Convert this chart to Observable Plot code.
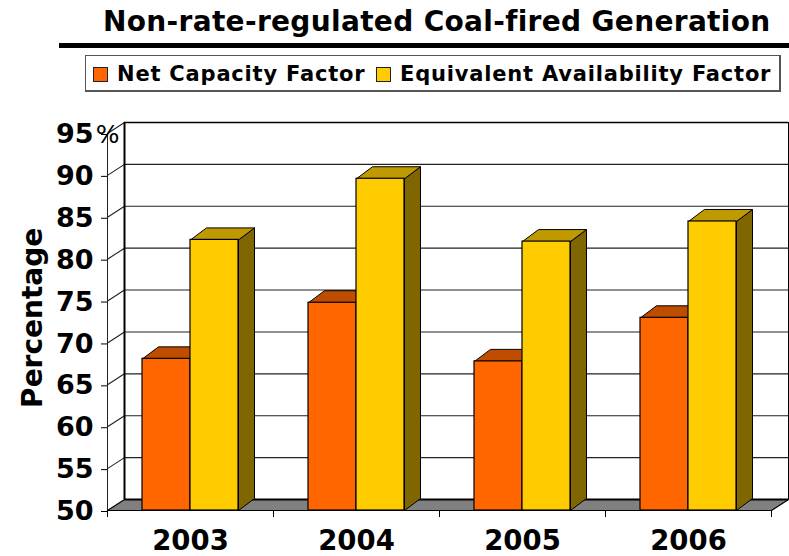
<!DOCTYPE html>
<html><head><meta charset="utf-8">
<script src="https://cdn.jsdelivr.net/npm/d3@7"></script>
<script src="https://cdn.jsdelivr.net/npm/@observablehq/plot@0.6"></script>
<style>
html,body{margin:0;padding:0;background:#fff;width:789px;height:556px;overflow:hidden}
body{font-family:"DejaVu Sans",sans-serif;color:#000}
#head{position:relative;height:100px;width:789px}
#title{position:absolute;left:103px;top:4px;font-weight:bold;font-size:28px;line-height:36px;white-space:nowrap;letter-spacing:.33px}
#rule{position:absolute;left:59px;right:0;top:43px;height:5px;background:#000}
#legend{position:absolute;left:85px;top:55px;width:693px;height:34px;border:1px solid #555;border-right-width:2px;border-bottom-width:2px;background:#fff}
.sw{position:absolute;top:11px;width:13px;height:13px;border:1px solid #222}
.lb{position:absolute;top:3px;font-weight:bold;font-size:21px;line-height:30px;white-space:nowrap;letter-spacing:.8px}
svg{display:block;overflow:visible}
</style></head><body>
<div id="head"><div id="title"></div><div id="rule"></div><div id="legend"></div></div>
<div id="chart"></div>
<script>
const title = "Non-rate-regulated Coal-fired Generation";
const years = ["2003","2004","2005","2006"];
const netCapacity = [68.1,74.8,67.8,73.0];
const equivAvail = [82.3,89.6,82.1,84.5];
const seriesNames = ["Net Capacity Factor","Equivalent Availability Factor"];
const yTicks = [50,55,60,65,70,75,80,85,90,95];
const orange = "#ff6600", orangeTop = "#bf4d00";
const yellow = "#ffcc00", yellowTop = "#bf9900", yellowSide = "#806600";
const font = "'DejaVu Sans', sans-serif";

document.getElementById("title").textContent = title;
const lg = document.getElementById("legend");
[[7,orange,31,seriesNames[0]],[290,yellow,314,seriesNames[1]]].forEach(([sx,c,tx,t])=>{
  const s=document.createElement("div");s.className="sw";s.style.left=sx+"px";s.style.background=c;lg.append(s);
  const l=document.createElement("div");l.className="lb";l.style.left=tx+"px";l.textContent=t;lg.append(l);
});

const dx = 17/166, dy = 11/8.38;          // oblique depth of the walls, in scale units
const bx = 16/166, by = 12/8.38;          // oblique depth of the bars
const barW = 48/166, barOff = 35/166;
const poly = (id,pts)=>[...pts,pts[0]].map(([x,y])=>({id,x,y}));
const top4 = (id,a,b,v)=>poly(id,[[a,v],[a+bx,v+by],[b+bx,v+by],[b,v]]);
const side = (id,b,v)=>poly(id,[[b,50],[b+bx,50+by],[b+bx,v+by],[b,v]]);

const oTops=[],oFront=[],yTops=[],ySides=[],yFront=[];
years.forEach((yr,i)=>{
  const a=i+barOff,m=a+barW,b=m+barW;
  oTops.push(...top4("ot"+i,a,m,netCapacity[i]));
  oFront.push({x1:a,x2:m,y1:50,y2:netCapacity[i]});
  yTops.push(...top4("yt"+i,m,b,equivAvail[i]));
  ySides.push(...side("ys"+i,b,equivAvail[i]));
  yFront.push({x1:m,x2:b,y1:50,y2:equivAvail[i]});
});
const grid = yTicks.flatMap(v=>[{v,x:0,y:v},{v,x:dx,y:v+dy},{v,x:4+dx,y:v+dy}]);
const floor = poly("floor",[[0,50],[dx,50+dy],[4+dx,50+dy],[4,50]]);

const plot = Plot.plot({
  width:789,height:456,
  marginLeft:107,marginRight:18,marginTop:33,marginBottom:46,
  style:{background:"transparent",overflow:"visible",fontFamily:font},
  x:{domain:[0,4],range:[107,771]},
  y:{domain:[50,95],range:[410,33]},
  marks:[
    Plot.line(grid.filter(d=>d.v>50),{x:"x",y:"y",z:"v",stroke:"#222",strokeWidth:1.1}),
    Plot.line(floor,{x:"x",y:"y",z:"id",fill:"#808080",stroke:"#000",strokeWidth:1.2}),
    Plot.ruleX([dx],{y1:50+dy,y2:95+dy,stroke:"#000",strokeWidth:2}),
    Plot.ruleX([4+dx],{y1:50+dy,y2:95+dy,stroke:"#000",strokeWidth:1}),
    Plot.ruleY([95+dy],{x1:dx,x2:4+dx,stroke:"#000",strokeWidth:1.5}),
    Plot.ruleY([50+dy],{x1:dx,x2:4+dx,stroke:"#000",strokeWidth:2}),
    Plot.ruleX([0],{y1:50,y2:95,stroke:"#222",strokeWidth:1}),
    Plot.line(oTops,{x:"x",y:"y",z:"id",fill:orangeTop,stroke:"#000",strokeWidth:1}),
    Plot.rect(oFront,{x1:"x1",x2:"x2",y1:"y1",y2:"y2",fill:orange,stroke:"#000",strokeWidth:1.2}),
    Plot.line(ySides,{x:"x",y:"y",z:"id",fill:yellowSide,stroke:"#000",strokeWidth:1}),
    Plot.line(yTops,{x:"x",y:"y",z:"id",fill:yellowTop,stroke:"#000",strokeWidth:1}),
    Plot.rect(yFront,{x1:"x1",x2:"x2",y1:"y1",y2:"y2",fill:yellow,stroke:"#000",strokeWidth:1.2}),
    Plot.ruleY([50],{x1:0,x2:4,stroke:"#000",strokeWidth:1.2}),
    Plot.axisY(yTicks,{anchor:"left",tickSize:6,tickPadding:8,stroke:"#000",fontSize:27,fontWeight:"bold",fill:"#000",label:null,tickFormat:d=>String(d),fontFamily:font,dy:1}),
    Plot.text(["%"],{x:()=>0,y:()=>95,text:d=>d,dy:1,fontSize:25,fontFamily:font,fill:"#000"}),
    Plot.axisX([0,1,2,3,4],{anchor:"bottom",tickSize:7,stroke:"#000",tickFormat:()=>"",label:null}),
    Plot.axisX(years.map((_,i)=>i+.5),{anchor:"bottom",tickSize:0,tickPadding:20,fontSize:27.5,fontWeight:"bold",fill:"#000",label:null,tickFormat:d=>years[d-.5],fontFamily:font}),
    Plot.text(["Percentage"],{x:()=>-74/166,y:()=>73,rotate:-90,fontSize:28,fontWeight:"bold",fontFamily:font,fill:"#000"})
  ]
});
document.getElementById("chart").append(plot);
</script>
</body></html>
